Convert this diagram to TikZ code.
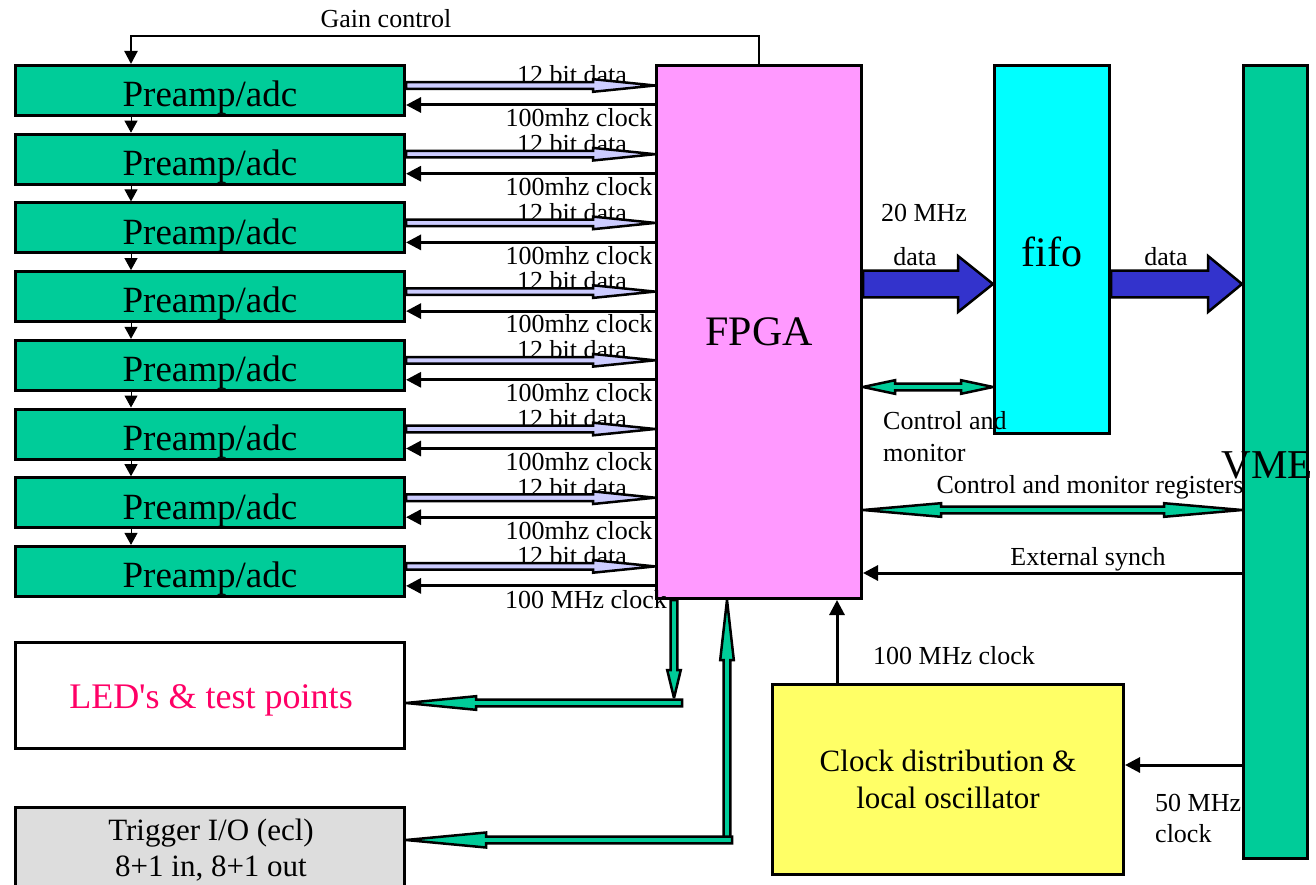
\documentclass[tikz,border=0pt]{standalone}
\usepackage{fontspec}
\setmainfont{Liberation Serif}
\usetikzlibrary{arrows.meta,calc}
\definecolor{pgreen}{RGB}{0,204,153}
\definecolor{fpgapink}{RGB}{255,153,255}
\definecolor{fifocyan}{RGB}{0,255,255}
\definecolor{clkyellow}{RGB}{255,255,102}
\definecolor{busblue}{RGB}{51,51,204}
\definecolor{lav}{RGB}{204,204,255}
\definecolor{ledred}{RGB}{255,0,102}
\definecolor{trggray}{RGB}{221,221,221}
\newcommand\fs[2]{\fontsize{#1}{#2}\selectfont}
% single-headed bus arrow: [style]{tail}{tip}{shaft half}{head length}{head half}
\newcommand\busarrow[6][]{%
  \coordinate (ba-t) at (#2); \coordinate (ba-h) at (#3);
  \coordinate (ba-b) at ($(ba-h)!#5pt!(ba-t)$);
  \filldraw[busline,#1] ($(ba-t)!#4pt!90:(ba-h)$) -- ($(ba-b)!#4pt!90:(ba-h)$)
    -- ($(ba-b)!#6pt!90:(ba-h)$) -- (ba-h) -- ($(ba-b)!#6pt!-90:(ba-h)$)
    -- ($(ba-b)!#4pt!-90:(ba-h)$) -- ($(ba-t)!#4pt!-90:(ba-h)$) -- cycle;}
% double-headed bus arrow
\newcommand\dbusarrow[6][]{%
  \coordinate (da-a) at (#2); \coordinate (da-b) at (#3);
  \coordinate (da-1) at ($(da-a)!#5pt!(da-b)$);
  \coordinate (da-2) at ($(da-b)!#5pt!(da-a)$);
  \filldraw[busline,#1] (da-a) -- ($(da-1)!#6pt!90:(da-b)$) -- ($(da-1)!#4pt!90:(da-b)$)
    -- ($(da-2)!#4pt!90:(da-b)$) -- ($(da-2)!#6pt!90:(da-b)$) -- (da-b)
    -- ($(da-2)!#6pt!-90:(da-b)$) -- ($(da-2)!#4pt!-90:(da-b)$)
    -- ($(da-1)!#4pt!-90:(da-b)$) -- ($(da-1)!#6pt!-90:(da-b)$) -- cycle;}
\tikzset{
  box/.style={draw, line width=3pt, inner sep=0pt, align=center},
  preamp/.style={box, fill=pgreen, minimum width=389pt, minimum height=50pt},
  pretext/.style={inner sep=0pt, font=\fs{37}{40}},
  lbl/.style={inner sep=0pt, font=\fs{26}{31}},
  busline/.style={draw=black, line width=2.5pt, line join=miter, miter limit=4},
  sig/.style={line width=3pt, -{Triangle[length=15pt,width=15pt]}},
  gainline/.style={line width=2.2pt, -{Triangle[length=13pt,width=13pt]}},
  chainarr/.style={line width=1pt, -{Triangle[length=12pt,width=13pt]}},
}
\begin{document}
\begin{tikzpicture}[x=1pt,y=-1pt]
\useasboundingbox (0,0) rectangle (1316,885);
\clip (0,0) rectangle (1316,885);
% main blocks
\node[box, fill=fpgapink, minimum width=205pt, minimum height=533pt, font=\fs{42}{46}] (fpga) at (759,332) {FPGA};
\node[box, fill=fifocyan, minimum width=115pt, minimum height=368pt] (fifo) at (1052,249.5) {};
\node[inner sep=0pt, font=\fs{42}{46}] (fifotxt) at (1052,252) {fifo};
\node[box, fill=pgreen, minimum width=64pt, minimum height=793pt] (vme) at (1275.5,462) {};
\node[box, fill=clkyellow, minimum width=351pt, minimum height=190pt, font=\fs{31}{37}] (clk) at (948,779.5) {Clock distribution \&\\local oscillator};
\node[box, fill=white, minimum width=389pt, minimum height=106pt] (led) at (210,695.5) {};
\node[inner sep=0pt, font=\fs{36}{40}, text=ledred] (ledtxt) at (211,700) {LED\textquotesingle s \& test points};
\node[box, fill=trggray, minimum width=389pt, minimum height=130pt] (trig) at (210,872.5) {};
\node[inner sep=0pt, font=\fs{31}{36}, align=center] (trigtxt) at (211,850) {Trigger I/O (ecl)\\8+1 in, 8+1 out};
\coordinate (chainx) at (131,0);
\foreach \i in {1,...,8}{
  \pgfmathsetmacro\ty{64+68.7*(\i-1)}
  \node[preamp] (pre\i) at (210,\ty+26.5) {};
  \node[pretext] (pret\i) at (210,\ty+34) {Preamp/adc};
  \coordinate (ya\i) at (0,\ty+21.5);
  \coordinate (yc\i) at (0,\ty+41);
  \node[lbl] (lbd\i) at (572,\ty+11) {12 bit data};
}
\foreach \i in {1,...,7}{
  \pgfmathsetmacro\ty{64+68.7*(\i-1)}
  \node[lbl] (lbc\i) at (579,\ty+54) {100mhz clock};
}
\node[lbl] (lbc8) at (586,600) {100 MHz clock};
% chain arrows
\foreach \i/\j in {1/2,2/3,3/4,4/5,5/6,6/7,7/8}{
  \draw[chainarr] (pre\i.south -| chainx) -- (pre\j.north -| chainx);
}
% data and clock arrows
\foreach \i in {1,...,8}{
  \busarrow[fill=lav]{pre\i.east |- ya\i}{fpga.west |- ya\i}{3.3}{62}{6.3}
  \draw[sig] (fpga.west |- yc\i) -- (pre\i.east |- yc\i);
}
% gain control
\draw[gainline] (fpga.north) -- ++(0,-28) -| (pre1.north -| chainx);
\node[lbl] (lgain) at (386,19) {Gain control};
% FPGA -> fifo -> VME data
\coordinate (ydata) at (0,284);
\busarrow[fill=busblue]{fpga.east |- ydata}{fifo.west |- ydata}{13.3}{35}{28}
\busarrow[fill=busblue]{fifo.east |- ydata}{vme.west |- ydata}{13.3}{34}{28}
\node[lbl] (l20) at (924,213) {20 MHz};
\node[lbl] (ld1) at (915,257) {data};
\node[lbl] (ld2) at (1166,257) {data};
% control and monitor
\coordinate (ycm) at (0,387);
\dbusarrow[fill=pgreen]{fpga.east |- ycm}{fifo.west |- ycm}{3.3}{32}{6.8}
\node[lbl, align=left, anchor=north west, font=\fs{26}{32}] (lcm) at (883,411) {Control and\\ monitor};
% registers
\coordinate (yreg) at (0,510);
\dbusarrow[fill=pgreen]{fpga.east |- yreg}{vme.west |- yreg}{3.3}{78}{6.8}
\node[lbl] (lreg) at (1090,487) {Control and monitor registers};
% external synch
\coordinate (ysyn) at (0,573);
\draw[sig] (vme.west |- ysyn) -- (fpga.east |- ysyn);
\node[lbl] (lsyn) at (1088,559) {External synch};
% 100 MHz clock
\coordinate (xck) at (837,0);
\draw[sig] (clk.north -| xck) -- (fpga.south -| xck);
\node[lbl] (l100) at (954,656) {100 MHz clock};
% 50 MHz clock
\coordinate (y50) at (0,765);
\draw[sig] (vme.west |- y50) -- (clk.east |- y50);
\node[lbl, align=left, anchor=north west, font=\fs{26}{31}] (l50) at (1155,794) {50 MHz\\clock};
% VME label
\node[inner sep=0pt, font=\fs{41}{45}] (vmetxt) at (1267,465) {VME};
% LED bus
\coordinate (xled) at (674,0);
\coordinate (ledend) at (674,698);
\coordinate (ledh) at (682,703);
\busarrow[fill=pgreen]{fpga.south -| xled}{ledend}{3.3}{28}{6.8}
\busarrow[fill=pgreen]{ledh}{led.east |- ledh}{3.3}{70}{6.8}
% trigger bus
\coordinate (xtrg) at (727,0);
\coordinate (trgc) at (727,842);
\coordinate (trgh) at (732,840);
\busarrow[fill=pgreen]{trgc}{fpga.south -| xtrg}{3.3}{60}{6.8}
\busarrow[fill=pgreen]{trgh}{trig.east |- trgh}{3.3}{80}{7.5}
\end{tikzpicture}
\end{document}
